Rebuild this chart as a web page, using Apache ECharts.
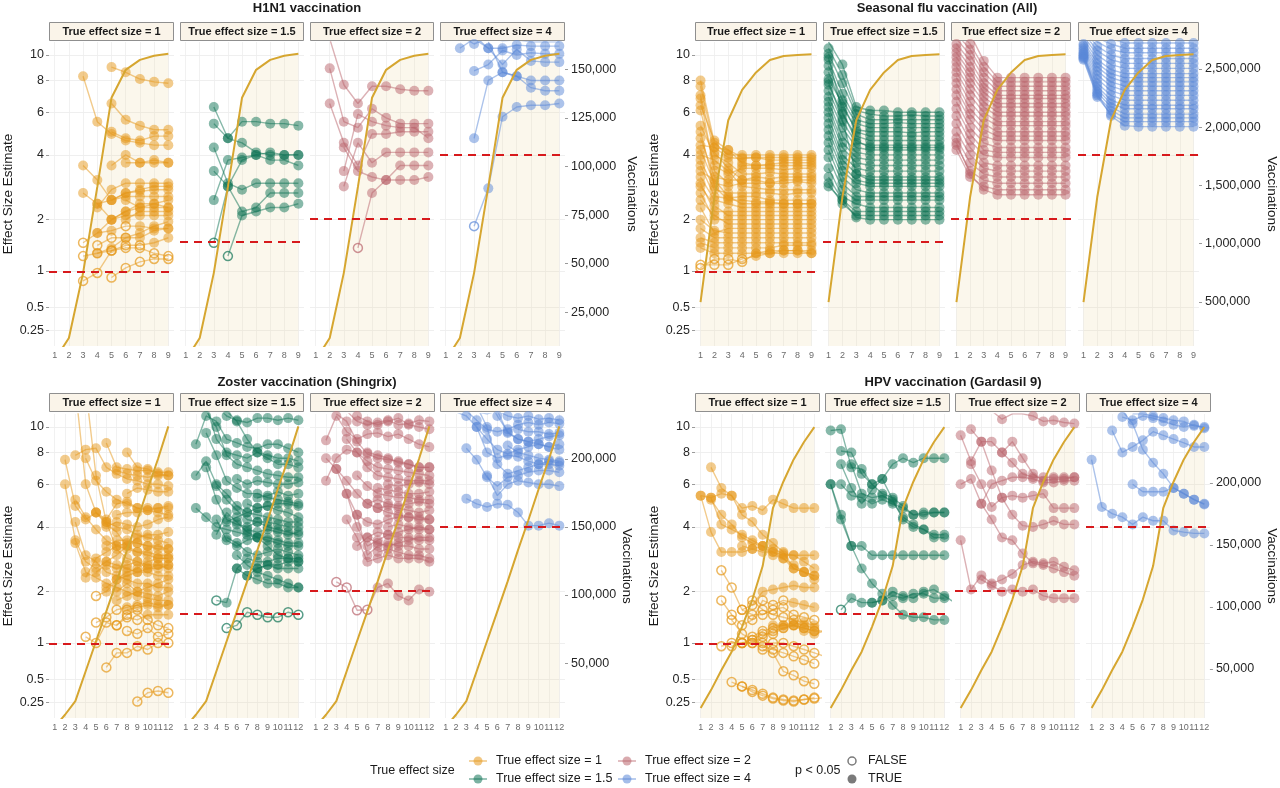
<!DOCTYPE html>
<html><head><meta charset="utf-8">
<script src="https://cdn.jsdelivr.net/npm/echarts@6/dist/echarts.min.js"></script>
<style>html,body{margin:0;padding:0;background:#fff}#c{width:1280px;height:788px}</style>
</head><body><div id="c"></div>
<script>
// ---------------- DATA ----------------
const weeks9 = [1,2,3,4,5,6,7,8,9];
const weeks12 = [1,2,3,4,5,6,7,8,9,10,11,12];
const esTickValues = [0.25,0.5,1,2,4,6,8,10];
const esTickLabels = ['0.25','0.5','1','2','4','6','8','10'];
const trueEffects = [1,1.5,2,4];
const facetLabels = ['True effect size = 1','True effect size = 1.5','True effect size = 2','True effect size = 4'];
const panelTitles = ['H1N1 vaccination','Seasonal flu vaccination (All)','Zoster vaccination (Shingrix)','HPV vaccination (Gardasil 9)'];

// cumulative vaccinations per week
const h1n1Vacc = [500,11800,45300,89500,135300,149700,154800,156900,157900];
const seasVacc = [498000,1400000,2060000,2320000,2470000,2577000,2612000,2620000,2626000];
const zostVacc = [3000,12000,22000,44000,66000,88000,110000,133000,155000,178000,200000,224000];
const hpvVacc = [18500,33000,49000,64000,84000,106000,133000,180000,201000,219000,233000,245000];
const h1n1VaccTicks = [25000,50000,75000,100000,125000,150000];
const seasVaccTicks = [500000,1000000,1500000,2000000,2500000];
const zostVaccTicks = [50000,100000,150000,200000];
const hpvVaccTicks = [50000,100000,150000,200000];

// simulations: [first week, estimates, p<0.05 flags (1 = TRUE, 0 = FALSE; omitted = all TRUE)]
const h1n1_es1 = [
 [5,[9.0,8.6,8.1,7.9,7.8]],
 [3,[8.3,5.5,4.9,4.6,4.5,4.4,4.4]],
 [5,[6.5,5.6,5.3,5.1,5.1]],
 [3,[3.6,3.1,2.5,2.7,2.8,2.9,2.9]],
 [3,[2.7,2.4,2.0,2.2,2.4,2.4,2.5]],
 [3,[1.5,1.7,2.0,2.1,2.1,2.1,2.1],'0111111'],
 [3,[1.25,1.3,1.35,1.4,1.4,1.3,1.25],'0000000'],
 [5,[0.9,1.05,1.15,1.2,1.2],'00000'],
 [3,[0.85,0.97,1.35,1.45,1.45,1.5,1.6],'0000011'],
 [4,[2.3,2.8,3.0,3.0,3.0,3.0]],
 [4,[1.7,1.75,1.85,1.85,1.8,1.8],'110111'],
 [4,[1.45,1.6,1.6,1.7,1.85,1.95],'000111'],
 [5,[3.6,4.0,3.7,3.7,3.7]],
 [5,[2.5,2.6,2.6,2.6,2.6]],
 [6,[3.7,3.7,3.8,3.7]],
 [5,[5.0,4.7,4.6,4.8,4.8]],
 [6,[2.5,2.3,2.3,2.3]],
 [6,[2.0,2.2,2.2,2.2]],
 [5,[2.0,2.2,2.3,2.4,2.3]],
 [4,[1.3,1.4,1.6,1.6,1.75,1.8]],
 [4,[2.4,2.5,2.7,2.75,2.8,2.8]]
];
const h1n1_es15 = [
 [3,[6.3,4.7,4.5,4.1,4.0,4.0,4.0]],
 [3,[5.4,4.7,5.5,5.5,5.4,5.4,5.3]],
 [3,[4.3,3.0,2.8,3.0,3.0,3.0,3.0]],
 [3,[3.4,2.9,3.8,4.0,3.8,3.8,3.6]],
 [3,[2.5,3.8,3.9,4.0,4.1,4.0,4.0]],
 [3,[1.5,2.9,2.2,2.3,2.7,2.7,2.7],'0111111'],
 [4,[1.25,2.1,2.2,2.3,2.3,2.4],'011111']
];
const h1n1_es2 = [
 [2,[11.5,7.7,6.5,7.6,7.6,7.4,7.3,7.3]],
 [2,[8.9,5.5,5.2,6.2,5.7,5.4,5.4,5.4]],
 [2,[6.5,4.5,3.6,4.9,4.9,5.0,5.0,5.0]],
 [3,[3.4,5.9,5.5,5.3,5.2,5.2,4.7]],
 [3,[2.9,4.5,3.7,4.1,4.1,4.1,4.1]],
 [4,[1.4,2.7,3.1,3.1,3.1,3.2],'011111'],
 [3,[4.3,3.4,3.2,3.1,3.6,3.6,3.6]]
];
const h1n1_es4 = [
 [2,[10.6,11.5,10.6,10.6,10.9,10.8,10.8,10.8]],
 [3,[8.7,9.2,10.4,10.0,10.2,10.1,10.1]],
 [3,[4.7,8.0,8.6,8.3,8.0,8.0,8.0]],
 [3,[1.85,2.84,5.76,6.3,6.4,6.4,6.5],'0111111'],
 [4,[11.2,8.6,8.3,7.5,7.3,7.3]],
 [3,[11.8,10.6,9.2,10.5,9.5,9.4,9.4]],
 [2,[11.8,11.0,11.6,11.3,11.4,11.2,11.2,11.2]]
];

const seas_es1 = [
 [1,[8.0,4.5,4.0,4.0,4.0,4.0,4.0,4.0,4.0]],
 [1,[7.6,4.3,3.9,3.85,3.9,3.9,3.9,3.9,3.9]],
 [1,[6.4,4.6,4.2,3.7,3.6,3.65,3.7,3.7,3.7]],
 [1,[6.1,3.6,3.3,3.5,3.5,3.5,3.45,3.5,3.5]],
 [1,[5.3,4.0,3.7,3.3,3.3,3.35,3.3,3.3,3.3]],
 [1,[4.7,3.2,3.1,3.1,3.2,3.15,3.2,3.2,3.2]],
 [1,[4.2,3.0,2.9,3.0,3.0,3.0,3.0,3.05,3.0]],
 [1,[4.0,3.8,3.4,2.9,2.85,2.8,2.8,2.8,2.8]],
 [1,[3.8,2.8,2.7,2.7,2.7,2.7,2.65,2.7,2.7]],
 [1,[3.6,2.6,2.55,2.6,2.6,2.5,2.5,2.5,2.5]],
 [1,[3.4,3.1,2.6,2.4,2.4,2.4,2.4,2.4,2.4]],
 [1,[3.2,2.5,2.4,2.3,2.3,2.3,2.3,2.3,2.3]],
 [1,[3.0,2.2,2.2,2.2,2.2,2.2,2.2,2.2,2.2]],
 [1,[2.9,2.35,2.1,2.1,2.1,2.1,2.1,2.1,2.1]],
 [1,[2.7,2.0,2.0,2.0,2.0,2.0,2.0,2.0,2.0]],
 [1,[2.5,2.1,1.9,1.9,1.9,1.9,1.9,1.9,1.9]],
 [1,[2.3,1.7,1.8,1.8,1.8,1.8,1.8,1.8,1.8]],
 [1,[2.0,1.75,1.7,1.7,1.7,1.7,1.7,1.7,1.7]],
 [1,[1.8,1.6,1.6,1.6,1.6,1.6,1.6,1.6,1.6]],
 [1,[1.6,1.5,1.5,1.5,1.5,1.5,1.5,1.5,1.5]],
 [1,[1.5,1.4,1.4,1.4,1.4,1.4,1.45,1.45,1.45]],
 [1,[1.4,1.3,1.3,1.3,1.3,1.35,1.35,1.35,1.35]],
 [1,[1.1,1.1,1.1,1.2,1.25,1.3,1.3,1.3,1.3],'000011111'],
 [1,[1.05,1.2,1.2,1.15,1.3,1.3,1.35,1.35,1.3],'000011111'],
 [1,[4.4,4.3,4.2,3.9,3.9,3.8,3.8,3.8,3.8]],
 [1,[6.8,3.4,3.0,3.6,3.6,3.6,3.6,3.6,3.6]],
 [1,[7.0,4.1,3.5,3.1,3.1,3.0,3.1,3.1,3.1]],
 [1,[5.0,2.9,2.5,2.5,2.45,2.45,2.4,2.4,2.4]]
];
const seas_es15 = [
 [1,[11.2,9.2,6.3,6.1,6.1,6.0,6.0,6.0,6.0]],
 [1,[10.6,8.4,6.1,5.9,5.8,5.8,5.85,5.8,5.8]],
 [1,[10.1,7.8,5.9,5.6,5.6,5.6,5.6,5.6,5.6]],
 [1,[9.6,7.1,5.6,5.4,5.4,5.45,5.4,5.4,5.4]],
 [1,[9.1,6.7,5.4,5.2,5.2,5.2,5.2,5.2,5.2]],
 [1,[8.6,6.3,5.1,5.0,5.0,5.0,4.95,5.0,5.0]],
 [1,[8.1,6.5,5.0,4.8,4.8,4.8,4.8,4.8,4.8]],
 [1,[7.7,5.9,4.8,4.6,4.6,4.6,4.6,4.6,4.6]],
 [1,[7.3,5.5,4.5,4.4,4.4,4.4,4.4,4.4,4.4]],
 [1,[6.9,5.2,4.3,4.2,4.2,4.2,4.2,4.2,4.2]],
 [1,[6.6,4.8,4.1,4.0,4.0,4.0,4.0,4.0,4.0]],
 [1,[6.3,4.5,3.9,3.8,3.8,3.8,3.8,3.8,3.8]],
 [1,[6.0,4.3,3.7,3.6,3.6,3.6,3.6,3.6,3.6]],
 [1,[5.7,4.0,3.5,3.4,3.4,3.4,3.4,3.4,3.4]],
 [1,[5.4,3.8,3.3,3.2,3.2,3.2,3.2,3.2,3.2]],
 [1,[5.1,3.6,3.1,3.0,3.0,3.0,3.0,3.0,3.0]],
 [1,[4.8,3.4,3.0,2.9,2.9,2.9,2.9,2.9,2.9]],
 [1,[4.5,3.2,2.8,2.7,2.7,2.7,2.7,2.7,2.7]],
 [1,[4.2,3.0,2.6,2.6,2.6,2.6,2.6,2.6,2.6]],
 [1,[3.9,2.8,2.5,2.5,2.5,2.5,2.5,2.5,2.5]],
 [1,[3.5,2.6,2.4,2.3,2.3,2.3,2.3,2.3,2.3]],
 [1,[3.2,2.5,2.2,2.2,2.2,2.2,2.2,2.2,2.2]],
 [1,[3.0,2.4,2.1,2.1,2.1,2.1,2.1,2.1,2.1]],
 [1,[2.9,2.5,2.05,2.0,2.0,2.0,2.0,2.0,2.0]],
 [1,[7.9,5.6,3.3,3.1,3.1,3.1,3.1,3.1,3.1]],
 [1,[9.8,6.0,4.6,4.3,4.3,4.3,4.3,4.3,4.3]]
];
const seas_es2 = [
 [1,[13.0,12.0,9.5,8.2,8.2,8.2,8.2,8.2,8.2]],
 [1,[12.5,11.0,9.0,7.9,7.9,7.9,7.9,7.9,7.9]],
 [1,[12.0,10.5,8.6,7.6,7.6,7.6,7.6,7.6,7.6]],
 [1,[11.5,10.0,8.2,7.3,7.3,7.3,7.3,7.3,7.3]],
 [1,[11.0,9.5,7.8,7.0,7.0,7.0,7.0,7.0,7.0]],
 [1,[10.6,9.0,7.5,6.8,6.8,6.8,6.8,6.8,6.8]],
 [1,[10.2,8.6,7.2,6.5,6.5,6.5,6.5,6.5,6.5]],
 [1,[9.8,8.2,6.9,6.3,6.3,6.3,6.3,6.3,6.3]],
 [1,[9.4,7.8,6.6,6.0,6.0,6.0,6.0,6.0,6.0]],
 [1,[9.0,7.4,6.3,5.8,5.8,5.8,5.8,5.8,5.8]],
 [1,[8.6,7.0,6.0,5.5,5.5,5.5,5.5,5.5,5.5]],
 [1,[8.2,6.6,5.7,5.3,5.3,5.3,5.3,5.3,5.3]],
 [1,[7.8,6.2,5.4,5.0,5.0,5.0,5.0,5.0,5.0]],
 [1,[7.4,5.9,5.1,4.8,4.8,4.8,4.8,4.8,4.8]],
 [1,[7.0,5.6,4.8,4.6,4.6,4.6,4.6,4.6,4.6]],
 [1,[6.6,5.2,4.5,4.3,4.3,4.3,4.3,4.3,4.3]],
 [1,[6.2,4.9,4.2,4.1,4.1,4.1,4.1,4.1,4.1]],
 [1,[5.8,4.6,4.0,3.9,3.9,3.9,3.9,3.9,3.9]],
 [1,[5.4,4.3,3.7,3.6,3.6,3.6,3.6,3.6,3.6]],
 [1,[5.0,4.0,3.5,3.4,3.4,3.4,3.4,3.4,3.4]],
 [1,[4.7,3.7,3.3,3.2,3.2,3.2,3.2,3.2,3.2]],
 [1,[4.4,3.4,3.1,3.0,3.0,3.0,3.0,3.0,3.0]],
 [1,[4.2,3.2,2.9,2.8,2.8,2.8,2.8,2.8,2.8]],
 [1,[4.5,3.3,2.8,2.65,2.65,2.65,2.65,2.65,2.65]]
];
const seas_es4 = [
 [1,[14.0,13.5,13.0,12.8,12.8,12.8,12.8,12.8,12.8]],
 [1,[13.8,13.0,12.5,12.2,12.2,12.2,12.2,12.2,12.2]],
 [1,[13.5,12.5,12.0,11.6,11.6,11.6,11.6,11.6,11.6]],
 [1,[13.2,12.0,11.5,11.1,11.1,11.1,11.1,11.1,11.1]],
 [1,[13.0,11.6,11.0,10.6,10.6,10.6,10.6,10.6,10.6]],
 [1,[12.7,11.2,10.5,10.2,10.2,10.2,10.2,10.2,10.2]],
 [1,[12.4,10.8,10.0,9.7,9.7,9.7,9.7,9.7,9.7]],
 [1,[12.1,10.4,9.6,9.3,9.3,9.3,9.3,9.3,9.3]],
 [1,[11.8,10.0,9.2,8.9,8.9,8.9,8.9,8.9,8.9]],
 [1,[11.5,9.6,8.8,8.5,8.5,8.5,8.5,8.5,8.5]],
 [1,[11.2,9.3,8.5,8.2,8.2,8.2,8.2,8.2,8.2]],
 [1,[11.0,9.0,8.2,7.9,7.9,7.9,7.9,7.9,7.9]],
 [1,[10.8,8.7,7.9,7.6,7.6,7.6,7.6,7.6,7.6]],
 [1,[10.6,8.4,7.6,7.3,7.3,7.3,7.3,7.3,7.3]],
 [1,[10.4,8.1,7.3,7.0,7.0,7.0,7.0,7.0,7.0]],
 [1,[10.2,7.8,7.0,6.7,6.7,6.7,6.7,6.7,6.7]],
 [1,[10.0,7.6,6.7,6.4,6.4,6.4,6.4,6.4,6.4]],
 [1,[9.9,7.4,6.5,6.2,6.2,6.2,6.2,6.2,6.2]],
 [1,[9.8,7.2,6.3,5.9,5.9,5.9,5.9,5.9,5.9]],
 [1,[9.7,7.0,6.1,5.7,5.7,5.7,5.7,5.7,5.7]],
 [1,[9.6,6.9,5.9,5.5,5.5,5.5,5.5,5.5,5.5]],
 [1,[10.1,7.1,5.8,5.3,5.25,5.25,5.25,5.25,5.25]]
];

const zost_es1 = [
 [2,[7.5,4.9,4.3,4.6,4.2,4.0,3.9,3.7,3.6,3.5,3.4]],
 [2,[6.0,3.5,2.8,2.6,2.8,2.7,2.6,2.5,2.5,2.4,2.4]],
 [3,[7.8,8.2,8.3,7.0,6.6,6.3,6.2,6.0,6.0,5.9]],
 [4,[7.6,6.2,5.6,5.2,5.0,4.8,4.7,4.8,4.9]],
 [6,[8.7,7.0,6.9,6.8,6.8,6.7,6.7]],
 [8,[8.0,7.0,6.9,6.6,6.5]],
 [3,[14.0,6.0,4.6,4.1,3.8,3.3,3.1,3.0,2.9,2.9]],
 [4,[14.0,6.5,4.2,3.2,2.9,2.8,2.6,2.7,2.6]],
 [3,[5.2,4.4,3.9,3.5,3.3,3.2,3.1,3.1,3.0,3.0]],
 [3,[4.2,3.0,2.8,2.5,2.4,2.3,2.2,2.2,2.1,2.1]],
 [3,[3.4,2.5,2.35,2.2,2.1,2.0,1.9,1.85,1.8,1.8]],
 [4,[2.35,2.9,3.1,3.3,3.4,3.4,3.3,3.3,3.2]],
 [5,[1.9,2.0,2.3,2.4,2.5,2.6,2.6,2.7],'01111111'],
 [5,[1.35,1.45,1.6,1.65,1.7,1.75,1.7,1.7],'00011111'],
 [4,[1.1,1.0,1.35,1.3,1.45,1.4,1.5,1.5,1.5],'000000111'],
 [6,[0.65,0.85,0.85,0.95,0.9,1.0,1.0],'0000000'],
 [9,[0.26,0.35,0.37,0.35],'0000'],
 [6,[4.0,4.2,4.1,4.0,4.1,4.3,4.4]],
 [5,[4.6,4.3,5.0,5.1,4.8,4.8,4.8,4.8]],
 [6,[2.8,3.0,3.3,3.6,3.7,3.7,3.8]],
 [6,[2.1,2.3,2.5,2.6,2.8,2.9,2.9]],
 [7,[1.3,1.5,1.6,1.4,1.3,1.25],'000000'],
 [7,[6.8,6.6,6.5,6.4,6.5,6.5]],
 [7,[2.0,2.2,2.0,2.1,2.2,2.3]],
 [7,[1.8,1.9,2.0,1.95,1.9,2.0]],
 [5,[2.5,2.7,2.6,2.7,2.8,2.7,2.7,2.7]],
 [8,[1.6,1.65,1.7,1.65,1.7],'00111'],
 [6,[3.3,3.5,3.5,3.4,3.3,3.2,3.2]],
 [7,[4.5,4.6,4.6,4.7,4.6,4.5]],
 [8,[5.5,5.8,5.7,5.6,5.6]],
 [8,[1.2,1.15,1.25,1.1,1.15],'00000']
];
const zost_es15 = [
 [2,[8.6,11.0,10.5,9.0,8.7,8.4,8.3,8.6,8.6,8.3,8.0]],
 [2,[6.5,7.4,6.0,5.5,4.9,4.6,4.5,4.4,4.3,4.2,4.2]],
 [2,[4.8,4.4,4.0,3.9,3.8,3.7,3.6,3.6,3.5,3.4,3.4]],
 [3,[11.5,10.0,7.8,7.2,7.0,6.8,6.6,6.5,6.4,6.4]],
 [3,[9.5,7.8,6.2,5.8,5.5,5.5,5.3,5.2,5.1,5.0]],
 [3,[7.0,5.2,4.3,4.1,4.0,4.2,4.2,4.1,4.0,4.0]],
 [4,[4.3,3.5,3.3,3.5,3.6,3.5,3.4,3.3,3.3]],
 [4,[1.8,1.75,2.6,2.9,2.8,2.8,2.9,2.9,2.9],'011111111'],
 [5,[1.25,1.3,1.55,1.5,1.45,1.45,1.55,1.5],'00000000'],
 [4,[3.7,4.6,4.2,3.8,3.6,3.3,3.0,2.9,2.8]],
 [5,[4.2,4.4,4.6,4.8,4.9,4.7,4.6,4.4]],
 [6,[3.0,2.7,2.5,2.4,2.3,2.2,2.1]],
 [6,[2.6,2.4,2.3,2.2,2.2,2.1,2.1]],
 [5,[11.5,10.5,9.0,8.0,7.6,7.2,7.2,7.0]],
 [4,[12.0,11.0,10.6,10.4,10.8,10.8,10.6,10.8,10.6]],
 [7,[5.0,4.8,4.9,5.0,5.0,4.9]],
 [6,[6.3,6.0,6.2,6.1,6.0,6.0,6.1]],
 [7,[3.9,3.8,3.9,3.8,3.7,3.8]],
 [8,[2.6,2.7,2.6,2.6,2.6]],
 [5,[3.6,3.4,3.1,3.0,3.1,3.2,3.1,3.0]],
 [3,[12.0,9.0,8.0,7.8,7.6,8.0,7.8,7.6,7.6,7.4]],
 [4,[5.9,5.2,4.7,4.3,4.2,4.0,3.9,3.8,3.7]],
 [7,[2.4,2.6,2.7,2.7,2.8,2.8]],
 [8,[5.3,5.4,5.6,5.4,5.5]]
];
const zost_es2 = [
 [2,[8.9,11.0,9.6,9.0,9.4,9.5,9.2,9.4,9.0,8.6,8.4]],
 [2,[7.6,6.9,6.2,5.5,5.0,4.8,4.6,4.5,4.4,4.4,4.3]],
 [2,[6.2,7.6,8.2,8.0,7.4,7.0,6.9,6.8,6.7,6.6,6.5]],
 [3,[11.2,10.5,8.8,7.9,7.6,7.5,7.4,7.2,7.0,7.0]],
 [3,[6.9,5.5,4.0,3.3,3.5,3.7,3.8,3.9,4.0,3.9]],
 [3,[2.24,2.1,1.59,1.6,2.1,2.2,1.9,1.8,2.05,2.0],'0000111111'],
 [4,[9.0,8.0,7.0,6.5,6.4,6.3,6.2,6.2,6.2]],
 [4,[5.5,4.5,3.0,3.3,3.4,3.3,3.3,3.2,3.2]],
 [4,[4.3,3.6,2.8,2.9,3.0,2.9,2.9,2.9,2.8]],
 [5,[6.5,5.9,5.5,5.4,5.3,5.3,5.2,5.2]],
 [5,[4.5,4.2,4.1,4.3,4.4,4.4,4.3,4.3]],
 [6,[3.6,3.4,3.3,3.4,3.5,3.6,3.6]],
 [6,[8.0,7.8,7.6,7.3,7.2,7.0,7.0]],
 [7,[5.8,5.7,5.6,5.5,5.5,5.6]],
 [7,[4.8,4.9,4.8,4.7,4.6,4.7]],
 [7,[3.1,3.2,3.1,3.0,3.0,2.9]],
 [5,[11.0,10.5,10.2,10.5,10.8,10.2,10.0,9.8]],
 [3,[13.0,11.5,10.5,10.2,10.4,10.6,10.2,10.3,10.6,10.5]],
 [8,[6.0,5.9,6.0,6.1,6.0]],
 [6,[5.0,5.2,5.0,4.9,5.0,5.1,5.0]],
 [8,[4.0,4.1,4.0,3.9,3.9]],
 [5,[3.3,3.6,3.8,3.7,3.6,3.6,3.5,3.5]]
];
const zost_es4 = [
 [3,[5.25,5.0,4.85,5.0,4.95,4.6,4.05,4.05,4.15,4.05]],
 [2,[11.4,11.0,10.0,8.0,7.6,7.8,7.7,7.4,7.2,7.2,7.1]],
 [3,[8.3,7.5,6.4,5.9,6.4,6.5,6.7,6.8,6.8,6.7]],
 [4,[10.0,9.0,8.2,7.9,8.2,8.4,8.6,8.4,8.2]],
 [3,[11.5,10.6,9.8,9.6,9.8,10.2,10.4,10.2,10.4,10.3]],
 [5,[6.5,5.4,6.0,6.2,6.1,6.0,6.0,5.9]],
 [4,[12.0,10.0,7.2,6.6,6.8,7.0,7.2,7.4,7.3]],
 [6,[11.5,9.5,9.0,8.8,9.0,9.2,9.3]],
 [5,[13.0,11.0,9.6,9.0,8.8,8.6,8.4,8.6]],
 [2,[12.0,12.0,11.4,11.2,11.5,11.0,10.8,11.0,10.7,10.8,10.6]],
 [7,[8.5,8.0,7.8,7.6,7.5,7.4]],
 [8,[9.8,9.6,9.6,9.4,9.5]]
];

const hpv_es1 = [
 [1,[5.4,5.3,5.5,5.4,4.8,4.9,4.7,5.2,5.0,4.8,4.8,4.8]],
 [1,[5.4,3.8,3.1,3.1,3.1,3.2,3.1,3.1,3.0,3.0,3.0,3.0]],
 [2,[7.0,5.8,5.4,4.5,4.2,3.7,3.4,3.1,2.6,2.5,2.4]],
 [2,[5.2,4.5,4.1,3.6,3.4,3.3,3.0,2.9,2.6,2.5,2.3]],
 [2,[5.3,4.1,3.9,3.7,3.5,3.3,3.2,3.05,3.0,2.8,2.6]],
 [3,[2.55,2.1,1.6,1.7,2.0,2.05,2.1,2.15,2.1,2.1],'0000111111'],
 [3,[1.8,1.5,1.3,1.4,1.8,1.7,1.8,1.75,1.7,1.65],'0000000111'],
 [4,[1.4,1.15,1.05,1.15,1.15,1.25,1.3,1.25,1.2,1.2],'0000000000'],
 [4,[0.95,1.0,1.0,1.1,1.2,1.25,1.3,1.2,1.15,1.2],'0000011111'],
 [3,[0.95,1.0,1.0,1.05,0.95,0.9,0.85,0.8,0.75,0.7],'0000000000'],
 [5,[1.0,1.0,1.0,1.0,1.0,0.95,0.9,0.85,0.8,0.8],'0000000000'],
 [4,[0.47,0.42,0.38,0.34,0.3,0.28,0.27,0.28,0.29,0.3],'0000000000'],
 [5,[0.42,0.36,0.32,0.29,0.27,0.26,0.28,0.3],'00000000'],
 [7,[0.9,0.85,0.6,0.55,0.48,0.45],'000000'],
 [5,[1.6,1.5,1.5,1.6,1.65,1.5,1.45,1.4],'00000000'],
 [8,[1.3,1.3,1.35,1.3,1.25]],
 [5,[3.3,3.2,3.3,3.1,2.9,2.7,2.5,2.4]],
 [6,[1.8,1.6,1.5,1.45,1.4,1.35,1.3],'0000011'],
 [6,[1.1,1.2,1.25,1.3,1.3,1.25,1.2],'0001111']
];
const hpv_es15 = [
 [1,[9.7,9.8,7.0,6.9,6.0,5.5,5.3,4.9,4.5,4.6,4.6,4.6]],
 [2,[8.1,8.0,6.6,6.0,6.3,5.2,4.3,4.0,3.9,3.7,3.7]],
 [1,[6.0,4.5,3.3,3.3,3.0,3.0,3.0,3.0,3.0,3.0,3.0,3.0]],
 [2,[1.6,1.85,1.75,1.75,1.8,1.9,1.85,1.95,1.95,1.85,1.85],'01111111111'],
 [2,[6.0,5.4,5.3,5.0,5.2,5.0,4.8,4.5,4.5,4.6,4.6]],
 [2,[7.2,5.8,5.0,5.7,6.3,7.2,7.6,7.3,7.6,7.6,7.6]],
 [1,[6.0,4.3,3.3,2.6,2.2,1.95,1.7,1.5,1.45,1.45,1.4,1.4]],
 [3,[7.2,5.5,5.3,5.4,5.1,4.4,4.1,3.9,3.6,3.6]],
 [5,[1.75,1.8,2.0,1.9,1.85,2.0,2.05,1.9,1.75]]
];
const hpv_es2 = [
 [4,[11.5,10.7,11.2,11.2,11.0,10.5,10.6,10.4,10.3]],
 [1,[9.3,7.4,8.8,8.8,8.0,7.3,6.6,6.4,6.4,6.4,6.4,6.4]],
 [1,[6.0,6.3,5.0,6.0,6.2,6.4,6.4,6.3,6.1,6.1,6.2,6.2]],
 [2,[7.2,6.0,4.85,5.3,5.4,5.3,5.4,5.5,4.8,4.8,4.8]],
 [2,[9.8,8.8,6.8,5.3,4.5,4.05,4.0,4.1,4.25,4.1,4.1]],
 [1,[3.5,2.05,2.41,2.2,2.3,2.45,2.7,2.8,2.75,2.8,2.65,2.55]],
 [3,[5.0,4.3,3.6,3.5,3.05,2.75,2.7,2.6,2.5,2.4]],
 [3,[2.3,2.15,2.0,2.05,2.0,2.05,1.9,1.85,1.85,1.85]],
 [5,[8.0,8.8,7.6,6.6,6.2,6.3,6.3,6.4]]
];
const hpv_es4 = [
 [1,[7.5,4.85,4.55,4.4,4.1,4.4,4.25,4.25,3.86,3.8,3.75,3.75]],
 [3,[9.7,8.0,8.4,8.9,9.6,9.3,9.0,8.7,8.4,8.4]],
 [4,[10.9,10.6,11.0,10.8,10.5,10.2,10.0,10.2,9.9]],
 [5,[6.0,5.6,5.6,5.6,5.8,5.5,5.2,4.97]],
 [4,[11.5,10.3,8.2,7.3,6.6,5.8,5.5,5.2,5.0]],
 [5,[11.2,11.2,11.0,10.8,10.6,10.5,10.1,10.0]]
];

// ---------------- LAYOUT ----------------
const FONT = '"Liberation Sans", Arial, sans-serif';
const PALETTE = [[230,152,25],[15,115,85],[185,100,108],[90,135,215]];
const CURVE = '#D6A630';
const tf = v => Math.log10(1 + v);
const Y_MIN = 0.044, Y_MAX = 1.086;

const panels = [
 {title:panelTitles[0], weeks:weeks9, vacc:h1n1Vacc, vTicks:h1n1VaccTicks, vMin:7700, vMax:164000,
  facets:[h1n1_es1,h1n1_es15,h1n1_es2,h1n1_es4], top:42, height:304, stripTop:22, titleY:8,
  xs:[[49,174],[180,304],[310,434],[440,565]], nameGapR:60},
 {title:panelTitles[1], weeks:weeks9, vacc:seasVacc, vTicks:seasVaccTicks, vMin:120000, vMax:2732000,
  facets:[seas_es1,seas_es15,seas_es2,seas_es4], top:42, height:304, stripTop:22, titleY:8,
  xs:[[695,817],[823,945],[951,1071],[1078,1199]], nameGapR:64},
 {title:panelTitles[2], weeks:weeks12, vacc:zostVacc, vTicks:zostVaccTicks, vMin:9600, vMax:233100,
  facets:[zost_es1,zost_es15,zost_es2,zost_es4], top:414, height:304, stripTop:393, titleY:382,
  xs:[[49,174],[180,304],[310,435],[440,565]], nameGapR:53},
 {title:panelTitles[3], weeks:weeks12, vacc:hpvVacc, vTicks:hpvVaccTicks, vMin:10500, vMax:255600,
  facets:[hpv_es1,hpv_es15,hpv_es2,hpv_es4], top:414, height:304, stripTop:393, titleY:382,
  xs:[[695,820],[825,950],[955,1080],[1086,1211]], nameGapR:54}
];

const rgba = (c,a) => `rgba(${c[0]},${c[1]},${c[2]},${a})`;
const esTicksT = esTickValues.map(tf);
const esFmt = v => { let b = 0; esTicksT.forEach((t,i)=>{ if (Math.abs(t-v) < Math.abs(esTicksT[b]-v)) b = i; }); return esTickLabels[b]; };

const grids = [], xAxes = [], yAxes = [], series = [], graphics = [];

panels.forEach((p) => {
  const n = p.weeks.length;
  const pad = 0.05 * (n - 1);
  graphics.push({type:'text', x:(p.xs[0][0] + p.xs[3][1]) / 2, y:p.titleY, silent:true,
    style:{text:p.title, align:'center', verticalAlign:'middle', font:'bold 13px ' + FONT, fill:'#1a1a1a'}});
  p.facets.forEach((sims, fi) => {
    const gi = grids.length;
    const [x0, x1] = p.xs[fi];
    grids.push({left:x0, top:p.top, width:x1 - x0, height:p.height, containLabel:false});
    xAxes.push({type:'value', gridIndex:gi, min:1 - pad, max:n + pad,
      axisLine:{show:false}, axisTick:{show:false, customValues:p.weeks},
      axisLabel:{customValues:p.weeks, fontSize:9, color:'#6b6b6b', margin:5, fontFamily:FONT, hideOverlap:false},
      splitLine:{show:true, lineStyle:{color:'#EEEEEE', width:0.8}}});
    yAxes.push({type:'value', gridIndex:gi, position:'left', min:Y_MIN, max:Y_MAX,
      axisLine:{show:false},
      axisTick:{show:fi === 0, length:3, customValues:esTicksT, lineStyle:{color:'#9a9a9a'}},
      axisLabel:{show:fi === 0, customValues:esTicksT, formatter:esFmt, fontSize:12.5, color:'#262626', margin:5, fontFamily:FONT},
      splitLine:{show:true, lineStyle:{color:'#EBEBEB', width:0.8}},
      name: fi === 0 ? 'Effect Size Estimate' : '', nameLocation:'middle', nameGap:32,
      nameTextStyle:{fontSize:13.5, color:'#1a1a1a', fontFamily:FONT}});
    yAxes.push({type:'value', gridIndex:gi, position:'right', min:p.vMin, max:p.vMax,
      axisLine:{show:false},
      axisTick:{show:fi === 3, length:3, customValues:p.vTicks, lineStyle:{color:'#9a9a9a'}},
      axisLabel:{show:fi === 3, customValues:p.vTicks, formatter:v => Math.round(v).toLocaleString('en-US'),
        fontSize:12.5, color:'#262626', margin:6, fontFamily:FONT},
      splitLine:{show:false},
      name: fi === 3 ? 'Vaccinations' : '', nameLocation:'middle', nameRotate:-90, nameGap:p.nameGapR,
      nameTextStyle:{fontSize:13.5, color:'#1a1a1a', fontFamily:FONT}});
    const yl = 2 * gi, yr = 2 * gi + 1;
    const curveData = p.weeks.map((w, j) => [w, p.vacc[j]]);
    series.push({type:'line', xAxisIndex:gi, yAxisIndex:yr, data:curveData, symbol:'none', silent:true,
      lineStyle:{width:0, opacity:0}, areaStyle:{color:'rgba(238,215,165,0.3)'}, z:1, animation:false});
    const col = PALETTE[fi];
    sims.forEach(sim => {
      const [start, vals, sig] = sim;
      series.push({type:'line', xAxisIndex:gi, yAxisIndex:yl, silent:true, animation:false, z:2,
        symbol:'circle', symbolSize:10,
        lineStyle:{color:rgba(col,0.5), width:1.4},
        itemStyle:{color:rgba(col,0.5)},
        data: vals.map((v, k) => {
          const hollow = sig && sig[k] === '0';
          return hollow
            ? {value:[start + k, tf(v)], symbolSize:9, itemStyle:{color:'rgba(255,255,255,0)', borderColor:rgba(col,0.7), borderWidth:1.5}}
            : {value:[start + k, tf(v)]};
        })});
    });
    series.push({type:'line', xAxisIndex:gi, yAxisIndex:yr, data:curveData, symbol:'none', silent:true,
      lineStyle:{color:CURVE, width:2}, z:3, animation:false});
    series.push({type:'line', xAxisIndex:gi, yAxisIndex:yl, data:[], silent:true, z:4, animation:false,
      markLine:{silent:true, symbol:'none', label:{show:false}, animation:false,
        lineStyle:{color:'#D7191C', width:2.2, type:[8,6]},
        data:[{yAxis:tf(trueEffects[fi])}]}});
    graphics.push({type:'rect', silent:true, shape:{x:x0 + 0.5, y:p.stripTop + 0.5, width:x1 - x0 - 1, height:18},
      style:{fill:'#FAF4E9', stroke:'#8f8f8f', lineWidth:1}});
    graphics.push({type:'text', silent:true, x:(x0 + x1) / 2, y:p.stripTop + 9.5,
      style:{text:facetLabels[fi], align:'center', verticalAlign:'middle', font:'bold 11px ' + FONT, fill:'#1a1a1a'}});
  });
});

// legend
const legendItems = [
  {x:478, y:761, c:PALETTE[0], t:facetLabels[0]},
  {x:478, y:779, c:PALETTE[1], t:facetLabels[1]},
  {x:627, y:761, c:PALETTE[2], t:facetLabels[2]},
  {x:627, y:779, c:PALETTE[3], t:facetLabels[3]}
];
graphics.push({type:'text', silent:true, x:370, y:771, style:{text:'True effect size', verticalAlign:'middle', font:'12.5px ' + FONT, fill:'#1a1a1a'}});
legendItems.forEach(it => {
  graphics.push({type:'line', silent:true, shape:{x1:it.x - 9, y1:it.y, x2:it.x + 9, y2:it.y}, style:{stroke:rgba(it.c,0.55), lineWidth:1.5}});
  graphics.push({type:'circle', silent:true, shape:{cx:it.x, cy:it.y, r:4.5}, style:{fill:rgba(it.c,0.55)}});
  graphics.push({type:'text', silent:true, x:it.x + 18, y:it.y, style:{text:it.t, verticalAlign:'middle', font:'12.5px ' + FONT, fill:'#1a1a1a'}});
});
graphics.push({type:'text', silent:true, x:795, y:771, style:{text:'p < 0.05', verticalAlign:'middle', font:'12.5px ' + FONT, fill:'#1a1a1a'}});
graphics.push({type:'circle', silent:true, shape:{cx:852, cy:761, r:4}, style:{fill:'none', stroke:'#7a7a7a', lineWidth:1.5}});
graphics.push({type:'text', silent:true, x:868, y:761, style:{text:'FALSE', verticalAlign:'middle', font:'12.5px ' + FONT, fill:'#1a1a1a'}});
graphics.push({type:'circle', silent:true, shape:{cx:852, cy:779, r:4.5}, style:{fill:'#7a7a7a'}});
graphics.push({type:'text', silent:true, x:868, y:779, style:{text:'TRUE', verticalAlign:'middle', font:'12.5px ' + FONT, fill:'#1a1a1a'}});

const chart = echarts.init(document.getElementById('c'), null, {renderer:'canvas'});
chart.setOption({
  backgroundColor:'#ffffff',
  animation:false,
  textStyle:{fontFamily:FONT},
  grid:grids, xAxis:xAxes, yAxis:yAxes, series:series,
  graphic:{elements:graphics}
});
</script>
</body></html>
